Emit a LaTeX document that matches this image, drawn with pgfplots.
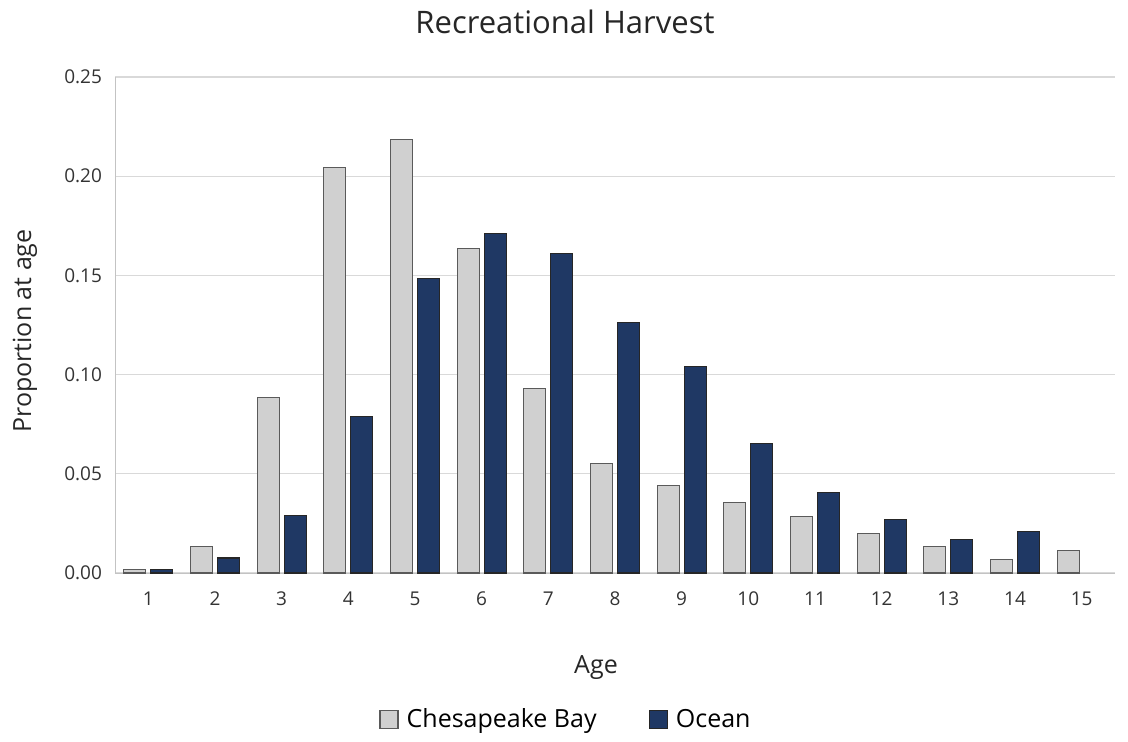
\documentclass[border=0pt]{standalone}
\usepackage{fontspec}
\setmainfont{Open Sans}
\usepackage{pgfplots}
\pgfplotsset{compat=1.18}

\definecolor{baygray}{HTML}{D0D0D0}
\definecolor{bayedge}{HTML}{5A5A5A}
\definecolor{oceanblue}{HTML}{1F3864}
\definecolor{gridgray}{HTML}{D9D9D9}

\begin{document}
\begin{tikzpicture}
\useasboundingbox (-57.5pt,-84.5pt) rectangle (506.5pt,286.5pt);
\begin{axis}[
    scale only axis,
    width=500pt, height=248pt,
    at={(0pt,0pt)}, anchor=origin,
    ybar, bar width=11pt,
    xmin=0.5, xmax=15.5,
    ymin=0, ymax=0.25,
    xtick={1,...,15},
    ytick={0,0.05,0.10,0.15,0.20,0.25},
    yticklabel style={/pgf/number format/.cd, fixed, fixed zerofill, precision=2, assume math mode=true},
    xticklabel style={/pgf/number format/assume math mode=true},
    ticklabel style={font=\fontsize{9.5}{11}\selectfont, text=black!80},
    major tick length=0pt,
    axis x line*=bottom, axis y line*=left,
    axis line style={draw=gridgray!90!black, -},
    ymajorgrids, grid style={draw=gridgray, line width=0.6pt},
    xtick style={draw=none}, ytick style={draw=none},
    xticklabel shift=6pt, yticklabel shift=3pt,
    legend columns=2,
    legend style={draw=none, at={(0.452,-0.296)}, anchor=center,
        font=\fontsize{12.5}{14}\selectfont,
        /tikz/every odd column/.append style={column sep=2pt},
        /tikz/every even column/.append style={column sep=24pt}},
    legend image code/.code={\draw[#1] (0pt,-4.5pt) rectangle (9pt,4.5pt);},
    clip=false,
]
\addplot[fill=baygray, draw=bayedge, line width=0.6pt, bar shift=-6.75pt] coordinates {
    (1,0.0017) (2,0.0132) (3,0.0885) (4,0.2042) (5,0.2186)
    (6,0.1636) (7,0.0929) (8,0.0551) (9,0.0441) (10,0.0356)
    (11,0.0285) (12,0.0200) (13,0.0133) (14,0.0068) (15,0.0113)
};
\addlegendentry{Chesapeake Bay}
\addplot[fill=oceanblue, draw=black!85, line width=0.6pt, bar shift=6.75pt] coordinates {
    (1,0.0017) (2,0.0076) (3,0.0288) (4,0.0788) (5,0.1483)
    (6,0.1712) (7,0.1610) (8,0.1263) (9,0.1042) (10,0.0653)
    (11,0.0407) (12,0.0270) (13,0.0167) (14,0.0210)
};
\addlegendentry{Ocean}
\end{axis}
\node[font=\fontsize{15.5}{18}\selectfont, text=black!85] at (225pt,275.5pt) {Recreational Harvest};
\node[font=\fontsize{12.5}{14}\selectfont, text=black!85] at (240.5pt,-47.5pt) {Age};
\node[font=\fontsize{12.5}{14}\selectfont, text=black!85, rotate=90] at (-45pt,121pt) {Proportion at age};
\end{tikzpicture}
\end{document}
